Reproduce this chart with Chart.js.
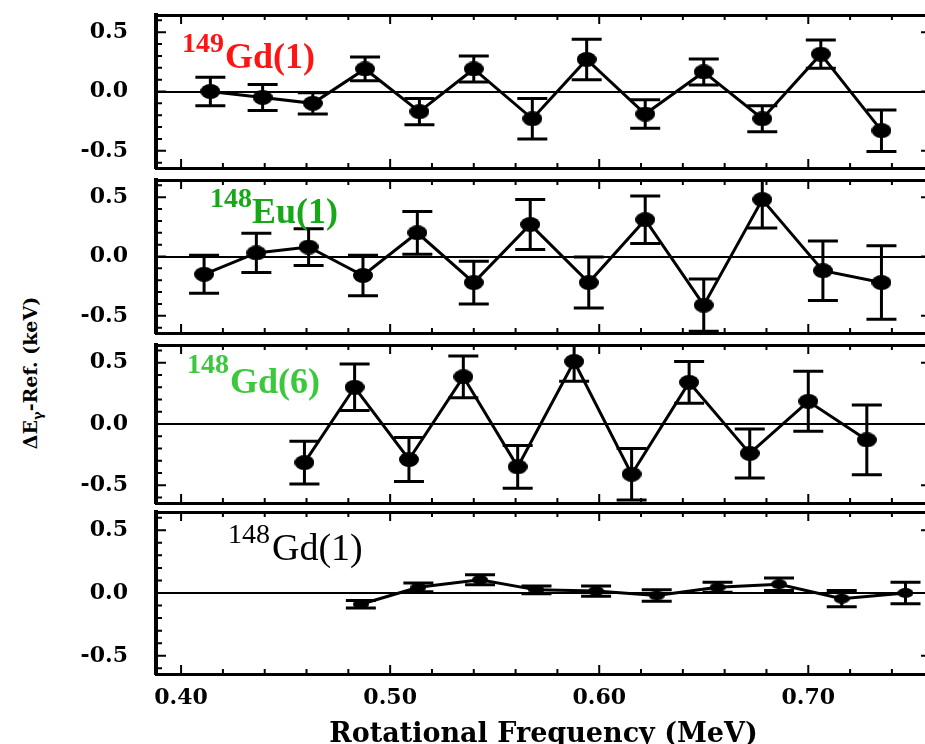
<!DOCTYPE html>
<html lang="en">
<head>
<meta charset="UTF-8">
<title>Signature splitting</title>
<script src="https://cdn.jsdelivr.net/npm/chart.js"></script>
<style>
  html, body { margin: 0; padding: 0; background: #fff; overflow: hidden; width: 925px; height: 744px; }
  .panel { position: absolute; left: 0; width: 942px; }
  #ytitle {
    position: absolute; left: 32px; top: 373px;
    transform: translate(-50%, -50%) rotate(-90deg);
    font: bold 19px "DejaVu Serif"; white-space: nowrap; color: #000;
  }
  #ytitle sub { font-size: 13px; }
</style>
</head>
<body>
<div id="ytitle">&Delta;E<sub>&gamma;</sub>-Ref. (keV)</div>

<script>
// ---- data ----
const gd149X   = [0.414, 0.439, 0.463, 0.488, 0.514, 0.540, 0.568, 0.594, 0.622, 0.650, 0.678, 0.706, 0.735];
const gd149Y   = [0.00, -0.05, -0.10, 0.19, -0.17, 0.19, -0.23, 0.27, -0.19, 0.165, -0.23, 0.315, -0.33];
const gd149Err = [0.12, 0.11, 0.09, 0.10, 0.11, 0.11, 0.17, 0.17, 0.12, 0.11, 0.11, 0.12, 0.175];

const eu148X   = [0.411, 0.436, 0.461, 0.487, 0.513, 0.540, 0.567, 0.595, 0.622, 0.650, 0.678, 0.707, 0.735];
const eu148Y   = [-0.15, 0.03, 0.08, -0.16, 0.20, -0.22, 0.27, -0.22, 0.31, -0.41, 0.48, -0.12, -0.22];
const eu148Err = [0.16, 0.165, 0.155, 0.17, 0.18, 0.18, 0.21, 0.215, 0.20, 0.22, 0.24, 0.25, 0.31];

const gd148b6X   = [0.459, 0.483, 0.509, 0.535, 0.561, 0.588, 0.6155, 0.643, 0.672, 0.700, 0.728];
const gd148b6Y   = [-0.315, 0.30, -0.29, 0.385, -0.35, 0.51, -0.41, 0.34, -0.24, 0.185, -0.13];
const gd148b6Err = [0.175, 0.19, 0.18, 0.17, 0.175, 0.16, 0.21, 0.17, 0.20, 0.245, 0.285];

const gd148b1X   = [0.486, 0.5135, 0.543, 0.570, 0.5985, 0.6275, 0.6566, 0.686, 0.716, 0.7465];
const gd148b1Y   = [-0.09, 0.045, 0.105, 0.025, 0.015, -0.02, 0.045, 0.07, -0.045, 0.0];
const gd148b1Err = [0.03, 0.035, 0.04, 0.03, 0.04, 0.045, 0.04, 0.05, 0.065, 0.085];

const bandMass = ['149', '148', '148', '148'];
const bandName = ['Gd(1)', 'Eu(1)', 'Gd(6)', 'Gd(1)'];

const xTicks = [0.40, 0.42, 0.44, 0.46, 0.48, 0.50, 0.52, 0.54, 0.56, 0.58, 0.60, 0.62, 0.64, 0.66, 0.68, 0.70, 0.72, 0.74];
const xLabelValues = [0.40, 0.50, 0.60, 0.70];
const xLabelText = ['0.40', '0.50', '0.60', '0.70'];
const yTicks = [-0.6, -0.5, -0.4, -0.3, -0.2, -0.1, 0, 0.1, 0.2, 0.3, 0.4, 0.5, 0.6];
const yLabelValues = [-0.5, 0, 0.5];
const yLabelText = ['-0.5', '0.0', '0.5'];
const xTitle = 'Rotational Frequency (MeV)';

const xMin = 0.388, xMax = 0.7587;
const yMin = -0.645, yMax = 0.645;

Chart.defaults.font.family = 'DejaVu Serif';
Chart.defaults.color = '#000';

function pick(v, values, texts) {
  const i = values.findIndex(w => Math.abs(w - v) < 1e-6);
  return i < 0 ? '' : texts[i];
}

function ellipse(w, h) {
  const c = document.createElement('canvas');
  c.width = w; c.height = h;
  const g = c.getContext('2d');
  g.fillStyle = '#000';
  g.beginPath();
  g.ellipse(w / 2, h / 2, w / 2, h / 2, 0, 0, Math.PI * 2);
  g.fill();
  return c;
}

// error bars, drawn under the markers
const errorBars = {
  id: 'errorBars',
  beforeDatasetsDraw(chart, args, opts) {
    const { ctx, chartArea: a, scales: { x, y } } = chart;
    ctx.save();
    ctx.beginPath();
    ctx.rect(a.left, a.top, a.right - a.left, a.bottom - a.top);
    ctx.clip();
    ctx.strokeStyle = '#000';
    ctx.lineWidth = opts.width;
    chart.data.datasets.forEach(ds => {
      ds.data.forEach((p, i) => {
        const e = ds.errors[i];
        const px = x.getPixelForValue(p.x);
        const t = y.getPixelForValue(p.y + e);
        const b = y.getPixelForValue(p.y - e);
        ctx.beginPath();
        ctx.moveTo(px, t); ctx.lineTo(px, b);
        ctx.moveTo(px - opts.cap, t); ctx.lineTo(px + opts.cap, t);
        ctx.moveTo(px - opts.cap, b); ctx.lineTo(px + opts.cap, b);
        ctx.stroke();
      });
    });
    ctx.restore();
  }
};

// tick marks pointing into the frame on all four sides
const inTicks = {
  id: 'inTicks',
  afterDraw(chart) {
    const { ctx, chartArea: a, scales: { x, y } } = chart;
    ctx.save();
    ctx.strokeStyle = '#000';
    ctx.lineWidth = 2;
    ctx.beginPath();
    x.ticks.forEach(t => {
      const px = x.getPixelForValue(t.value);
      const L = pick(t.value, xLabelValues, xLabelText) ? 9 : 5;
      ctx.moveTo(px, a.bottom); ctx.lineTo(px, a.bottom - L);
      ctx.moveTo(px, a.top); ctx.lineTo(px, a.top + L);
    });
    y.ticks.forEach(t => {
      const py = y.getPixelForValue(t.value);
      const L = pick(t.value, yLabelValues, yLabelText) ? 10 : 6;
      ctx.moveTo(a.left, py); ctx.lineTo(a.left + L, py);
      ctx.moveTo(a.right, py); ctx.lineTo(a.right - L, py);
    });
    ctx.stroke();
    ctx.restore();
  }
};

// band name with mass number as superscript
const bandLabel = {
  id: 'bandLabel',
  afterDraw(chart, args, o) {
    const ctx = chart.ctx;
    ctx.save();
    ctx.fillStyle = o.color;
    ctx.textBaseline = 'alphabetic';
    ctx.textAlign = 'left';
    ctx.font = o.weight + ' ' + o.supSize + 'px "Liberation Serif"';
    ctx.fillText(o.sup, o.supX, o.supBase - o.offset);
    ctx.font = o.weight + ' ' + o.mainSize + 'px "Liberation Serif"';
    ctx.fillText(o.main, o.mainX, o.mainBase - o.offset);
    ctx.restore();
  }
};

const panels = [
  { xs: gd149X, ys: gd149Y, errs: gd149Err, top: 10, bottom: 173, marker: ellipse(20, 15),
    label: { color: '#ff1414', weight: 'bold', supSize: 28, mainSize: 36, supX: 182, supBase: 52, mainX: 225, mainBase: 68 } },
  { xs: eu148X, ys: eu148Y, errs: eu148Err, top: 175, bottom: 338, marker: ellipse(20, 15),
    label: { color: '#16a816', weight: 'bold', supSize: 28, mainSize: 36, supX: 210, supBase: 207, mainX: 252, mainBase: 223 } },
  { xs: gd148b6X, ys: gd148b6Y, errs: gd148b6Err, top: 340, bottom: 508, marker: ellipse(20, 15),
    label: { color: '#3cc83c', weight: 'bold', supSize: 28, mainSize: 36, supX: 187, supBase: 373, mainX: 230, mainBase: 393 } },
  { xs: gd148b1X, ys: gd148b1Y, errs: gd148b1Err, top: 507, bottom: 674, marker: ellipse(16, 10),
    label: { color: '#000', weight: 'normal', supSize: 28, mainSize: 38, supX: 228, supBase: 543, mainX: 272, mainBase: 560 } }
];

panels.forEach((p, i) => {
  const isLast = i === panels.length - 1;
  const padTop = 6, padBottom = isLast ? 0 : 6;
  const wrapTop = p.top - padTop;
  const wrapH = isLast ? 744 - wrapTop : (p.bottom - p.top) + padTop + padBottom;

  const wrap = document.createElement('div');
  wrap.className = 'panel';
  wrap.style.top = wrapTop + 'px';
  wrap.style.height = wrapH + 'px';
  const canvas = document.createElement('canvas');
  wrap.appendChild(canvas);
  document.body.appendChild(wrap);

  new Chart(canvas, {
    type: 'line',
    data: {
      datasets: [{
        data: p.xs.map((x, k) => ({ x: x, y: p.ys[k] })),
        errors: p.errs,
        borderColor: '#000',
        borderWidth: 3,
        tension: 0,
        pointStyle: p.marker,
        pointRadius: 8
      }]
    },
    options: {
      responsive: true,
      maintainAspectRatio: false,
      animation: false,
      events: [],
      layout: { padding: { top: padTop, bottom: padBottom, left: 0, right: 0 } },
      scales: {
        x: {
          type: 'linear', position: 'bottom', min: xMin, max: xMax,
          afterBuildTicks: s => { s.ticks = xTicks.map(v => ({ value: v })); },
          afterFit: s => { s.height = isLast ? 70 : 0; s.paddingLeft = 0; s.paddingRight = 0; },
          grid: { display: false, drawTicks: false },
          border: { display: true, color: '#000', width: 3 },
          ticks: {
            display: isLast, autoSkip: false, maxRotation: 0, padding: 11,
            font: { size: 22, weight: 'bold' },
            callback: v => pick(v, xLabelValues, xLabelText)
          },
          title: {
            display: isLast, text: xTitle, padding: 0,
            font: { size: 27, weight: 'bold', lineHeight: 0.65 }
          }
        },
        x2: {
          type: 'linear', position: 'top', min: xMin, max: xMax,
          afterFit: s => { s.height = 0; s.paddingLeft = 0; s.paddingRight = 0; },
          grid: { display: false, drawTicks: false },
          border: { display: true, color: '#000', width: 3 },
          ticks: { display: false }
        },
        y: {
          type: 'linear', min: yMin, max: yMax,
          afterBuildTicks: s => { s.ticks = yTicks.map(v => ({ value: v })); },
          afterFit: s => { s.width = 156; s.paddingTop = 0; s.paddingBottom = 0; },
          grid: {
            drawTicks: false, lineWidth: 2,
            color: c => (c.tick && Math.abs(c.tick.value) < 1e-9) ? '#000' : 'rgba(0,0,0,0)'
          },
          border: { display: true, color: '#000', width: 4 },
          ticks: {
            autoSkip: false, padding: 28,
            font: { size: 22, weight: 'bold' },
            callback: v => pick(v, yLabelValues, yLabelText)
          }
        }
      },
      plugins: {
        legend: { display: false },
        tooltip: { enabled: false },
        errorBars: { cap: 15, width: 3 },
        bandLabel: Object.assign({ sup: bandMass[i], main: bandName[i], offset: wrapTop }, p.label)
      }
    },
    plugins: [errorBars, inTicks, bandLabel]
  });
});
</script>
</body>
</html>
